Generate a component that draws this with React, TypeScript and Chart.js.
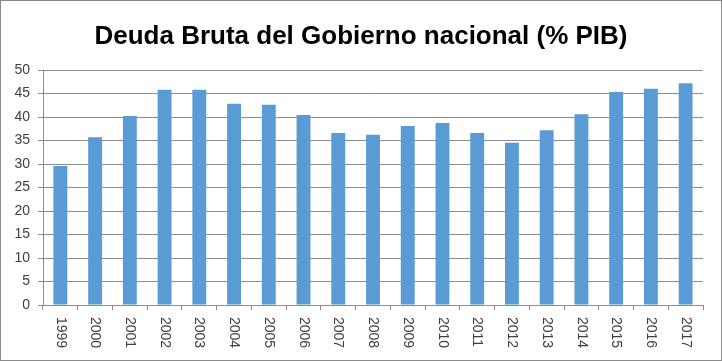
import React, { useEffect, useRef } from "react";
import { Chart, registerables } from "chart.js";

Chart.register(...registerables);

const years = ["1999","2000","2001","2002","2003","2004","2005","2006","2007","2008","2009","2010","2011","2012","2013","2014","2015","2016","2017"];
const deuda = [29.6,35.7,40.2,45.8,45.8,42.8,42.6,40.4,36.6,36.2,38.1,38.7,36.6,34.5,37.2,40.6,45.3,46.0,47.2];
const titleText = "Deuda Bruta del Gobierno nacional (% PIB)";
const yMin = 0;
const yMax = 50;
const yStep = 5;

const FONT = "'Liberation Sans', Arial, sans-serif";
const LABEL_COLOR = "#404040";
const GRID_COLOR = "#8c8c8c";

const framePlugin = {
  id: "frame",
  afterDraw(chart: any) {
    const ctx = chart.ctx;
    ctx.save();
    ctx.strokeStyle = "#8a8a8a";
    ctx.lineWidth = 1;
    ctx.strokeRect(0.5, 0.5, chart.width - 1, chart.height - 1);
    ctx.restore();
  },
};

const titlePlugin = {
  id: "customTitle",
  afterDraw(chart: any) {
    const ctx = chart.ctx;
    ctx.save();
    ctx.fillStyle = "#000";
    ctx.font = `bold 26px ${FONT}`;
    ctx.textAlign = "center";
    ctx.textBaseline = "middle";
    ctx.fillText(titleText, chart.width / 2, 37);
    ctx.restore();
  },
};

const xLabelPlugin = {
  id: "xLabels",
  afterDraw(chart: any) {
    const ctx = chart.ctx;
    const xs = chart.scales.x;
    const top = chart.chartArea.bottom + 12;
    ctx.save();
    ctx.fillStyle = LABEL_COLOR;
    ctx.font = `14px ${FONT}`;
    ctx.textAlign = "left";
    ctx.textBaseline = "middle";
    chart.data.labels.forEach((lab: string, i: number) => {
      const x = xs.getPixelForValue(i);
      ctx.save();
      ctx.translate(x, top);
      ctx.rotate(Math.PI / 2);
      ctx.fillText(lab, 0, 0);
      ctx.restore();
    });
    ctx.restore();
  },
};

export default function App() {
  const ref = useRef<HTMLCanvasElement | null>(null);
  useEffect(() => {
    document.body.style.margin = "0";
    const canvas = ref.current!;
    const chart = new Chart(canvas, {
      type: "bar",
      data: {
        labels: years,
        datasets: [
          {
            data: deuda,
            backgroundColor: "#5B9BD5",
            borderWidth: 0,
            barPercentage: 0.4,
            categoryPercentage: 1,
          },
        ],
      },
      options: {
        responsive: false,
        animation: false,
        layout: { padding: { top: 70, left: 0, right: 19, bottom: 0 } },
        plugins: {
          legend: { display: false },
          tooltip: { enabled: false },
          title: { display: false },
        },
        scales: {
          x: {
            offset: true,
            afterFit(scale: any) {
              scale.height = 56;
            },
            grid: {
              display: true,
              offset: true,
              drawOnChartArea: false,
              drawTicks: true,
              tickLength: 5,
              color: GRID_COLOR,
            },
            border: { display: true, color: GRID_COLOR },
            ticks: { display: false },
          },
          y: {
            min: yMin,
            max: yMax,
            afterFit(scale: any) {
              scale.width = 43;
            },
            ticks: {
              stepSize: yStep,
              padding: 8,
              color: LABEL_COLOR,
              font: { family: FONT, size: 14 },
            },
            grid: {
              color: GRID_COLOR,
              drawTicks: true,
              tickLength: 5,
            },
            border: { display: true, color: GRID_COLOR },
          },
        },
      },
      plugins: [xLabelPlugin, titlePlugin, framePlugin],
    });
    return () => chart.destroy();
  }, []);
  return (
    <canvas
      ref={ref}
      width={722}
      height={361}
      style={{ display: "block", width: 722, height: 361 }}
    />
  );
}
